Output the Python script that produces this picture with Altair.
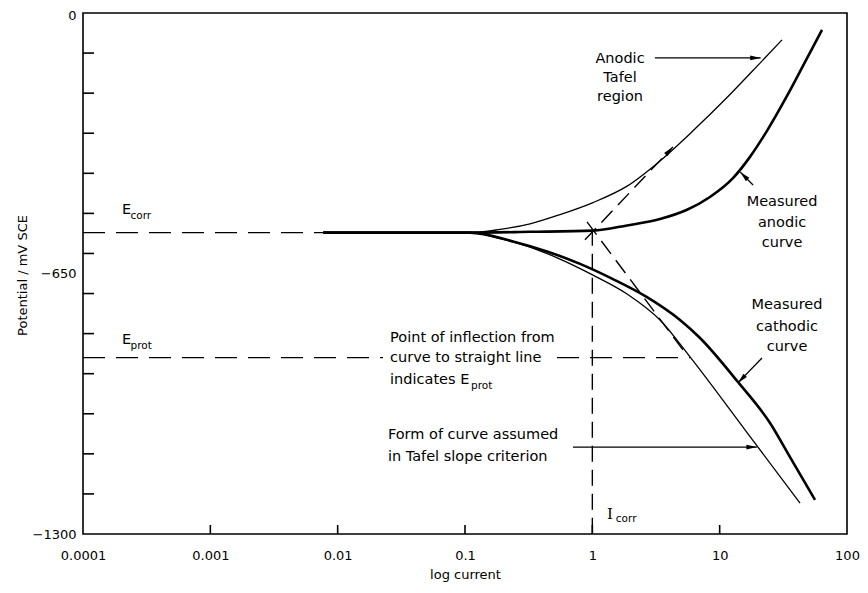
import altair as alt
import pandas as pd

# ---------------- data ----------------
X_DOMAIN = [0.0001, 100]
Y_DOMAIN = [-1300, 0]
x_label_values = [0.0001, 0.001, 0.01, 0.1, 1, 10, 100]
x_inner_ticks = [0.001, 0.01, 0.1, 1, 10]
y_label_values = [0, -650, -1300]
y_inner_ticks = [-100, -200, -300, -400, -500, -600, -700, -800, -900, -1000, -1100, -1200]

E_CORR = -548
E_PROT = -860
I_CORR = 1.0

# measured anodic curve (thick)
meas_anodic_x = [0.0077, 0.1094, 0.324, 1.0125, 1.873, 3.401, 5.54, 8.39, 12.72, 17.30, 23.53, 33.79, 45.12, 63.64]
meas_anodic_v = [-548, -548, -546, -543, -530, -514, -491, -459, -412, -359, -294, -207, -132, -42]

# anodic Tafel curve (thin)
tafel_anodic_x = [0.0077, 0.1094, 0.1884, 0.324, 0.5574, 1.0125, 1.873, 3.401, 6.175, 11.42, 20.75, 30.89]
tafel_anodic_v = [-548, -548, -540, -526, -503, -473, -432, -369, -294, -211, -125, -67]

# measured cathodic curve (thick)
meas_cath_x = [0.0077, 0.1094, 0.2382, 0.4405, 0.8004, 1.453, 2.688, 4.883, 7.012, 13.69, 24.86, 35.69, 56.09]
meas_cath_v = [-548, -548, -570, -595, -626, -664, -709, -766, -811, -918, -1023, -1108, -1215]

# assumed Tafel form of cathodic curve (thin)
tafel_cath_x = [0.0077, 0.1094, 0.1884, 0.324, 0.5574, 1.0125, 1.873, 3.401, 5.848, 15.81, 42.76]
tafel_cath_v = [-548, -548, -563, -584, -614, -654, -701, -766, -858, -1040, -1223]

# dashed construction lines
ecorr_x = [0.0001, 0.0077]
eprot_seg1_x = [0.0001, 0.0227]
eprot_seg2_x = [0.528, 5.85]
icorr_v = [-541, -1300]
anodic_dash_x = [0.875, 4.30]
anodic_dash_v = [-566, -334]
cath_dash_x = [0.908, 5.6]
cath_dash_v = [-521, -856]

# annotation arrows: start (x, v) -> tip (x2, v2), head angle
arrow_x = [3.10, 18.3, 21.5, 0.705]
arrow_v = [-112, -429, -861, -1083]
arrow_x2 = [21.0, 14.5, 13.9, 19.6]
arrow_v2 = [-112, -397, -923, -1083]
arrow_ang = [90, 315, 224, 90]

# ---------------- build tables ----------------
def line_df(name, xs, vs):
    return pd.DataFrame({"x": xs, "v": vs, "series": name, "i": list(range(len(xs)))})

thick_df = pd.concat([
    line_df("meas_anodic", meas_anodic_x, meas_anodic_v),
    line_df("meas_cath", meas_cath_x, meas_cath_v),
])
thin_df = pd.concat([
    line_df("tafel_anodic", tafel_anodic_x, tafel_anodic_v),
    line_df("tafel_cath", tafel_cath_x, tafel_cath_v),
])
long_dash_df = pd.concat([
    line_df("ecorr", ecorr_x, [E_CORR, E_CORR]),
    line_df("eprot1", eprot_seg1_x, [E_PROT, E_PROT]),
    line_df("eprot2", eprot_seg2_x, [E_PROT, E_PROT]),
])
short_dash_df = pd.concat([
    line_df("icorr", [I_CORR, I_CORR], icorr_v),
    line_df("tafel_a", anodic_dash_x, anodic_dash_v),
    line_df("tafel_c", cath_dash_x, cath_dash_v),
])
arrow_df = pd.DataFrame({"x": arrow_x, "v": arrow_v, "x2": arrow_x2, "v2": arrow_v2, "ang": arrow_ang})
head_df = pd.concat([
    pd.DataFrame({"x": arrow_x2, "v": arrow_v2, "ang": arrow_ang}),
    pd.DataFrame({"x": [anodic_dash_x[1]], "v": [anodic_dash_v[1]], "ang": [43]}),
])

xs = alt.Scale(type="log", domain=X_DOMAIN, nice=False)
ys = alt.Scale(domain=Y_DOMAIN, nice=False, zero=False)

FONT = "DejaVu Sans"

x_axis = alt.Axis(values=x_label_values, format=".4~f", ticks=False, domain=False, grid=False,
                  labelFont=FONT, labelFontSize=13, labelColor="black", labelPadding=15,
                  labelFlush=False, title="log current", titleFont=FONT, titleFontSize=13,
                  titleFontWeight="normal", titleColor="black", titlePadding=6)
y_axis = alt.Axis(values=y_label_values, format="d", ticks=False, domain=False, grid=False,
                  labelFont=FONT, labelFontSize=13, labelColor="black", labelPadding=7,
                  labelOffset={"condition": {"test": "datum.value == 0", "value": 2}, "value": 0},
                  title="Potential / mV SCE", titleFont=FONT, titleFontSize=13,
                  titleFontWeight="normal", titleColor="black",
                  titleX=-61, titleY=262, titleAngle=270, titleAlign="center", titleBaseline="middle")


def X(field="x"):
    return alt.X(f"{field}:Q", scale=xs, axis=x_axis)


def Y(field="v"):
    return alt.Y(f"{field}:Q", scale=ys, axis=y_axis)


thin = alt.Chart(thin_df).mark_line(color="black", strokeWidth=1.3, interpolate="monotone").encode(
    x=X(), y=Y(), detail="series:N", order="i:Q")
thick = alt.Chart(thick_df).mark_line(color="black", strokeWidth=2.6, interpolate="monotone").encode(
    x=X(), y=Y(), detail="series:N", order="i:Q")
long_dash = alt.Chart(long_dash_df).mark_line(color="black", strokeWidth=1.4, strokeDash=[22, 11]).encode(
    x=X(), y=Y(), detail="series:N", order="i:Q")
short_dash = alt.Chart(short_dash_df).mark_line(color="black", strokeWidth=1.4, strokeDash=[16, 8]).encode(
    x=X(), y=Y(), detail="series:N", order="i:Q")

ytick_layer = alt.Chart(pd.DataFrame({"v": y_inner_ticks})).mark_rule(color="black", strokeWidth=1.6).encode(
    y=Y(), x=alt.value(0), x2=alt.value(11))
xtick_layer = alt.Chart(pd.DataFrame({"x": x_inner_ticks})).mark_rule(color="black", strokeWidth=1.6).encode(
    x=X(), y=alt.value(521), y2=alt.value(512))

arrows = alt.Chart(arrow_df).mark_rule(color="black", strokeWidth=1.3).encode(
    x=X(), y=Y(), x2="x2:Q", y2="v2:Q")
heads = alt.Chart(head_df).mark_point(shape="M0,0L0.45,2L-0.45,2Z", filled=True, size=110,
                                      color="black", opacity=1, strokeWidth=0).encode(
    x=X(), y=Y(), angle=alt.Angle("ang:Q", scale=None))

# text annotations
left_text = pd.DataFrame({
    "x": [0.0258, 0.0258, 0.0258, 0.0248, 0.0248, 0.000202, 0.000202],
    "v": [-811, -861, -916, -1053, -1108, -491, -816],
    "t": ["Point of inflection from", "curve to straight line", "indicates E",
          "Form of curve assumed", "in Tafel slope criterion", "E", "E"],
})
sub_text = pd.DataFrame({
    "x": [0.000236, 0.000236, 0.1114, 1.53],
    "v": [-506, -831, -930, -1262],
    "t": ["corr", "prot", "prot", "corr"],
})
center_text = pd.DataFrame({
    "x": [1.65, 1.65, 1.65, 30.9, 30.9, 30.9, 33.8, 33.8, 33.8],
    "v": [-115, -162, -210, -472, -524, -574, -729, -783, -833],
    "t": ["Anodic", "Tafel", "region", "Measured", "anodic", "curve", "Measured", "cathodic", "curve"],
})
serif_text = pd.DataFrame({"x": [1.303], "v": [-1250], "t": ["I"]})

t_left = alt.Chart(left_text).mark_text(align="left", baseline="middle", font=FONT, fontSize=14.5,
                                        color="black").encode(x=X(), y=Y(), text="t:N")
t_sub = alt.Chart(sub_text).mark_text(align="left", baseline="middle", font=FONT, fontSize=10.5,
                                      color="black").encode(x=X(), y=Y(), text="t:N")
t_center = alt.Chart(center_text).mark_text(align="center", baseline="middle", font=FONT, fontSize=14.5,
                                            color="black").encode(x=X(), y=Y(), text="t:N")
t_serif = alt.Chart(serif_text).mark_text(align="left", baseline="middle", font="DejaVu Serif", fontSize=15,
                                          color="black").encode(x=X(), y=Y(), text="t:N")

chart = alt.layer(
    thin, thick, long_dash, short_dash, ytick_layer, xtick_layer, arrows, heads,
    t_left, t_sub, t_center, t_serif
).properties(
    width=764, height=521,
    padding={"left": 75, "top": 5, "right": 13, "bottom": 51},
    autosize=alt.AutoSizeParams(type="none"),
    background="white",
).configure_view(stroke="black", strokeWidth=1.6)

chart.save("out.html", embed_options={"renderer": "svg", "actions": False})
